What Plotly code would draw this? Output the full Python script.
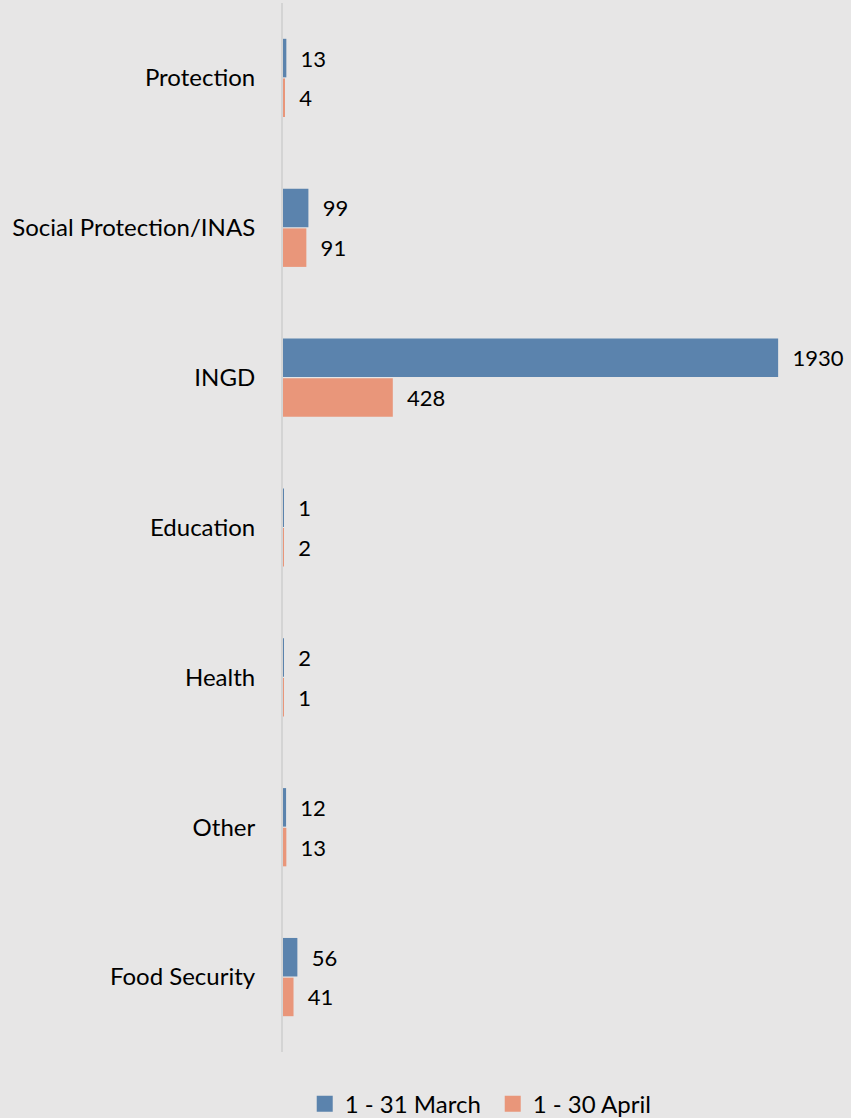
import plotly.graph_objects as go

categories = ["Protection", "Social Protection/INAS", "INGD", "Education", "Health", "Other", "Food Security"]
march = [13, 99, 1930, 1, 2, 12, 56]
april = [4, 91, 428, 2, 1, 13, 41]
series_names = ["1 - 31 March", "1 - 30 April"]
colors = ["#5B83AD", "#E9967A"]

FONT = "Lato"
fig = go.Figure()
for name, vals, col in zip(series_names, [march, april], colors):
    fig.add_trace(go.Bar(
        y=categories, x=vals, orientation="h", name=name,
        marker=dict(color=col, line=dict(width=0)),
        text=vals, texttemplate="  %{x}", textposition="outside",
        textfont=dict(family=FONT, size=22, color="#000000"),
        cliponaxis=False, showlegend=False,
    ))
for name, col in zip(series_names, colors):
    fig.add_trace(go.Scatter(
        x=[None], y=[None], mode="markers", name=name,
        marker=dict(symbol="square", size=16, color=col),
    ))

fig.update_layout(
    width=851, height=1118,
    paper_bgcolor="#E7E6E6", plot_bgcolor="#E7E6E6",
    margin=dict(l=283, r=0, t=3, b=66, autoexpand=False),
    barmode="group", bargap=0.47, bargroupgap=0.03,
    font=dict(family=FONT, size=22, color="#000000"),
    showlegend=True,
    legend=dict(orientation="h", xref="container", x=0.579, xanchor="center",
                yref="container", y=0.0125, yanchor="middle",
                font=dict(family=FONT, size=24), traceorder="normal",
                itemwidth=30, entrywidth=143, entrywidthmode="pixels",
                bgcolor="rgba(0,0,0,0)"),
    xaxis=dict(range=[0, 2214], autorange=False, showticklabels=False, showgrid=False,
               zeroline=False, showline=False),
    yaxis=dict(autorange="reversed", showline=True, linecolor="#D4D4D4", linewidth=2,
               ticks="", ticklabelstandoff=21, showgrid=False,
               tickfont=dict(family=FONT, size=24, color="#000000")),
)
fig.write_html("out.html")
